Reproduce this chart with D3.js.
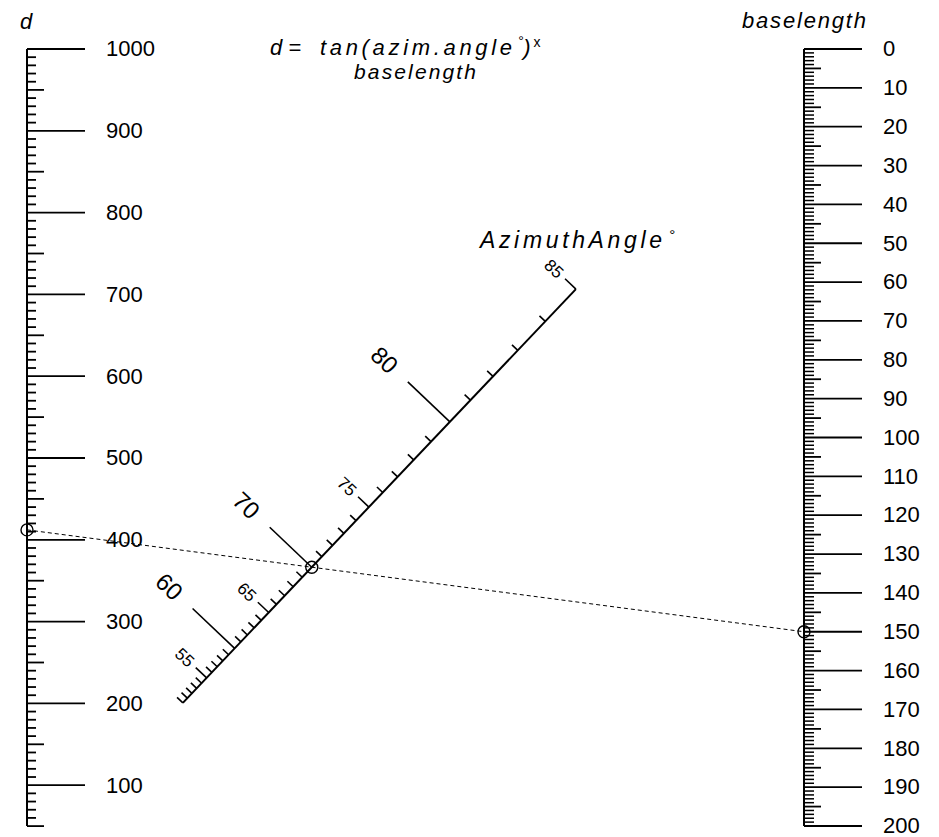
<!DOCTYPE html>
<html>
<head>
<meta charset="utf-8">
<script src="https://cdn.jsdelivr.net/npm/d3@7/dist/d3.min.js"></script>
<style>
  html, body { margin: 0; padding: 0; background: #fff; }
  svg { display: block; }
  text { font-family: "Liberation Sans", Arial, sans-serif; fill: #000; }
</style>
</head>
<body>
<script>
// ---- data ----
const dDomain = [0, 1000];
const dTickRange = [50, 1000];
const dMajorLabels = [100, 200, 300, 400, 500, 600, 700, 800, 900, 1000];
const baseDomain = [0, 200];
const baseMajorLabels = [0, 10, 20, 30, 40, 50, 60, 70, 80, 90, 100, 110, 120, 130, 140, 150, 160, 170, 180, 190, 200];
const angleRange = [50, 85];
const angleMajorLabels = [60, 70, 80];
const angleMediumLabels = [55, 65, 75, 85];
const exampleAngle = 70;
const exampleBase = 150;

const W = 939, H = 837;
const svg = d3.select("body").append("svg").attr("width", W).attr("height", H);

const xL = 27, xR = 804;
const yD = d3.scaleLinear().domain(dDomain).range([867, 49]);
const yB = d3.scaleLinear().domain(baseDomain).range([49, 826]);

const strokeW = 1.8;

// ---- left axis (d) ----
const gL = svg.append("g");
gL.append("line").attr("x1", xL).attr("x2", xL)
  .attr("y1", yD(dTickRange[0])).attr("y2", yD(dTickRange[1]))
  .attr("stroke", "#000").attr("stroke-width", 2);
d3.range(dTickRange[0], dTickRange[1] + 1, 10).forEach(v => {
  const len = v % 100 === 0 ? 58 : (v % 50 === 0 ? 17 : 9);
  gL.append("line").attr("x1", xL).attr("x2", xL + len)
    .attr("y1", yD(v)).attr("y2", yD(v))
    .attr("stroke", "#000").attr("stroke-width", strokeW);
});
gL.selectAll("text.lab").data(dMajorLabels).join("text")
  .attr("x", 106).attr("y", d => yD(d)).attr("dy", "0.34em")
  .attr("font-size", 22).text(d => d);
svg.append("text").attr("x", 20).attr("y", 29).attr("font-size", 22)
  .attr("font-style", "italic").text("d");

// ---- right axis (baselength) ----
const gR = svg.append("g");
gR.append("line").attr("x1", xR).attr("x2", xR)
  .attr("y1", yB(baseDomain[0])).attr("y2", yB(baseDomain[1]))
  .attr("stroke", "#000").attr("stroke-width", 2);
d3.range(baseDomain[0], baseDomain[1] + 1, 1).forEach(v => {
  const len = v % 10 === 0 ? 58 : (v % 5 === 0 ? 17 : 10);
  gR.append("line").attr("x1", xR).attr("x2", xR + len)
    .attr("y1", yB(v)).attr("y2", yB(v))
    .attr("stroke", "#000").attr("stroke-width", v % 5 === 0 ? strokeW : 1.5);
});
gR.selectAll("text.lab").data(baseMajorLabels).join("text")
  .attr("x", 883).attr("y", d => yB(d)).attr("dy", "0.33em")
  .attr("font-size", 22).text(d => d);
svg.append("text").attr("x", 742).attr("y", 28).attr("font-size", 22)
  .attr("font-style", "italic").attr("textLength", 124).attr("lengthAdjust", "spacing")
  .text("baselength");

// ---- diagonal (Z-chart) ----
const A = [xL, yD(0)], B = [xR, yB(0)];
function intersect(p1, p2, p3, p4) {
  const d = (p1[0]-p2[0])*(p3[1]-p4[1]) - (p1[1]-p2[1])*(p3[0]-p4[0]);
  const t = ((p1[0]-p3[0])*(p3[1]-p4[1]) - (p1[1]-p3[1])*(p3[0]-p4[0])) / d;
  return [p1[0] + t*(p2[0]-p1[0]), p1[1] + t*(p2[1]-p1[1])];
}
function anglePos(a) {
  const k = Math.tan(a * Math.PI / 180);
  const b = 100, dv = k * b;
  return intersect(A, B, [xL, yD(dv)], [xR, yB(b)]);
}
const len = Math.hypot(B[0]-A[0], B[1]-A[1]);
const dir = [(B[0]-A[0])/len, (B[1]-A[1])/len];
const perp = [dir[1], -dir[0]]; // up-left
const rotDeg = Math.atan2(-perp[1], -perp[0]) * 180 / Math.PI;

const gA = svg.append("g");
const p0 = anglePos(angleRange[0]), p1 = anglePos(angleRange[1]);
gA.append("line").attr("x1", p0[0]).attr("y1", p0[1]).attr("x2", p1[0]).attr("y2", p1[1])
  .attr("stroke", "#000").attr("stroke-width", 2);
d3.range(angleRange[0], angleRange[1] + 1, 1).forEach(a => {
  const p = anglePos(a);
  const L = angleMajorLabels.includes(a) ? 58 : (angleMediumLabels.includes(a) ? 15 : 8);
  gA.append("line").attr("x1", p[0]).attr("y1", p[1])
    .attr("x2", p[0] + perp[0]*L).attr("y2", p[1] + perp[1]*L)
    .attr("stroke", "#000").attr("stroke-width", 1.6);
});
angleMajorLabels.forEach(a => {
  const p = anglePos(a);
  const cx = p[0] + perp[0]*90, cy = p[1] + perp[1]*90;
  gA.append("text").attr("transform", `translate(${cx},${cy}) rotate(${rotDeg})`)
    .attr("text-anchor", "middle").attr("dy", "0.36em").attr("font-size", 24).text(a);
});
angleMediumLabels.forEach(a => {
  const p = anglePos(a);
  const cx = p[0] + perp[0]*30, cy = p[1] + perp[1]*30;
  gA.append("text").attr("transform", `translate(${cx},${cy}) rotate(${rotDeg})`)
    .attr("text-anchor", "middle").attr("dy", "0.36em").attr("font-size", 17).text(a);
});
const azT = svg.append("text").attr("x", 480).attr("y", 248).attr("font-size", 23)
  .attr("font-style", "italic");
azT.append("tspan").attr("textLength", 182).attr("lengthAdjust", "spacing").text("AzimuthAngle");
azT.append("tspan").attr("dx", 3).attr("dy", -8).attr("font-size", 15).text("°");

// ---- formula ----
const f1 = svg.append("text").attr("x", 270).attr("y", 55).attr("font-size", 22).attr("font-style", "italic");
f1.append("tspan").text("d =");
f1.append("tspan").attr("x", 320).attr("textLength", 192).attr("lengthAdjust", "spacing").text("tan(azim.angle");
f1.append("tspan").attr("dx", 2).attr("dy", -9).attr("font-size", 14).text("°");
f1.append("tspan").attr("dy", 9).text(")");
f1.append("tspan").attr("dx", 3).attr("dy", -8).attr("font-size", 14).attr("font-style", "normal").text("x");
svg.append("text").attr("x", 354).attr("y", 79).attr("font-size", 21).attr("font-style", "italic")
  .attr("textLength", 122).attr("lengthAdjust", "spacing").text("baselength");

// ---- example isopleth ----
const exD = Math.tan(exampleAngle * Math.PI / 180) * exampleBase;
const pL = [xL, yD(exD)], pR = [xR, yB(exampleBase)];
const pM = anglePos(exampleAngle);
svg.append("line").attr("x1", pL[0]).attr("y1", pL[1]).attr("x2", pR[0]).attr("y2", pR[1])
  .attr("stroke", "#000").attr("stroke-width", 1).attr("stroke-dasharray", "4,3");
[pL, pM, pR].forEach(p => {
  svg.append("circle").attr("cx", p[0]).attr("cy", p[1]).attr("r", 6)
    .attr("fill", "none").attr("stroke", "#000").attr("stroke-width", 1.4);
});
</script>
</body>
</html>
